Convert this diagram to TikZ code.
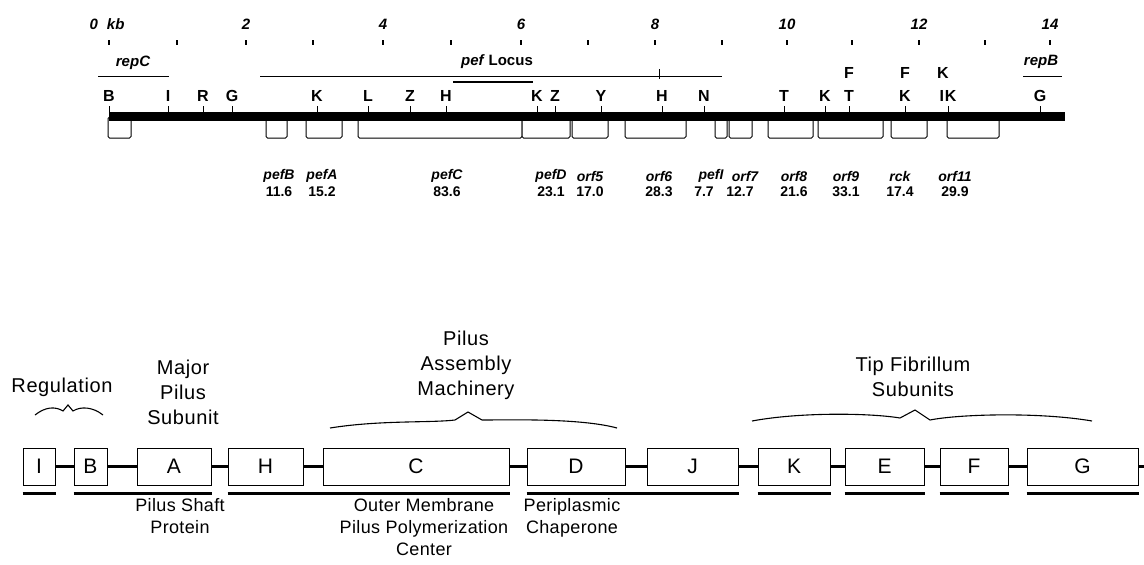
\documentclass[tikz,border=0pt]{standalone}
\usepackage{fontspec}
\setmainfont{Liberation Sans}
\usetikzlibrary{positioning}

\begin{document}
\begin{tikzpicture}[
  x=1pt,y=-1pt,
  scalelab/.style={font=\fontsize{15}{15}\selectfont\bfseries\itshape,inner sep=0pt},
  site/.style={font=\fontsize{16}{16}\selectfont\bfseries,inner sep=0pt},
  genename/.style={font=\fontsize{14}{14}\selectfont\bfseries\itshape,inner sep=0pt},
  genesize/.style={font=\fontsize{14}{14}\selectfont\bfseries,inner sep=0pt},
  orf/.style={draw,fill=white,rounded corners=1.5pt,line width=1pt},
  gene/.style={draw,line width=1pt,fill=white,minimum height=37pt,inner sep=0pt,font=\fontsize{21}{21}\selectfont},
  link/.style={line width=3pt},
  span/.style={line width=2.2pt},
  role/.style={align=center,font=\fontsize{20}{25}\selectfont\addfontfeatures{LetterSpace=3},inner sep=0pt},
  function/.style={align=center,font=\fontsize{18}{22}\selectfont\addfontfeatures{LetterSpace=2},inner sep=0pt,anchor=north},
  brace/.style={line width=1.1pt}
]
\useasboundingbox (0,0) rectangle (1144,565);

\node[scalelab] (k0) at (107,24) {0\hspace{9pt}kb};
\foreach \x/\k in {246/2,383/4,521/6,655/8,787/10,919/12,1050/14}
  \node[scalelab] (k\k) at (\x,24) {\k};
\foreach \x in {109,177,246,313,383,451,521,588,655,722,787,852,919,985,1050}
  \draw[line width=1.4pt] (\x,40) -- (\x,45);

\node[scalelab] (repC) at (133,63) {repC};
\draw[thick] (98,76) -- (169,76);
\node[scalelab] (locus) at (497,62) {pef\hspace{5pt}\upshape Locus};
\draw[thick] (260,76) -- (722,76);
\draw[line width=1.8pt] (453,82) -- (533,82);
\draw[thick] (659,69) -- (659,79);
\node[scalelab] (repB) at (1041,62) {repB};
\draw[thick] (1023,76) -- (1062,76);

\foreach \x/\s [count=\i] in {109/B,168/I,203/R,232/G,317/K,368/L,410/Z,446/H,537/K,555/Z,601/Y,662/H,704/N,784/T,825/K,849/T,905/K,948/I\kern1ptK,1040/G}{
  \node[site] (s\i) at (\x,96) {\s};
  \draw (\x,106) -- (\x,113);
}
\foreach \x/\s [count=\i] in {849/F,905/F,943/K}
  \node[site] (u\i) at (\x,73) {\s};

\foreach \a/\b in {108/131,266/287,306/342,358/522,522/570,572/608,625/686,715/727,729/752,768/813,818/883,891/927,947/999}
  \draw[orf] (\a,117) rectangle (\b,138);
\fill (109,112) rectangle (1065,121);

\foreach \x/\n/\v [count=\i] in {279/pefB/11.6,322/pefA/15.2,447/pefC/83.6,551/pefD/23.1,590/orf5/17.0,659/orf6/28.3,794/orf8/21.6,846/orf9/33.1,900/rck/17.4,955/orf11/29.9}{
  \node[genename] (g\i) at (\x,176) {\n};
  \node[genesize] (v\i) at (\x,192) {\v};
}
\node[genename] (pefI) at (711,176) {pefI};
\node[genename] (orf7) at (745,176) {orf7};
\node[genesize] (vI) at (704,192) {7.7};
\node[genesize] (v7) at (740,192) {12.7};

\node[gene,minimum width=32pt] (I) at (39,466.5) {I};
\node[gene,minimum width=33pt] (B) at (90.5,466.5) {B};
\node[gene,minimum width=74pt] (A) at (174,466.5) {A};
\node[gene,minimum width=75pt] (H) at (265.5,466.5) {H};
\node[gene,minimum width=186pt] (C) at (416,466.5) {C};
\node[gene,minimum width=98pt] (D) at (576,466.5) {D};
\node[gene,minimum width=91pt] (J) at (692.5,466.5) {J};
\node[gene,minimum width=72pt] (K) at (794,466.5) {K};
\node[gene,minimum width=79pt] (E) at (884.5,466.5) {E};
\node[gene,minimum width=68pt] (F) at (974,466.5) {F};
\node[gene,minimum width=111pt] (G) at (1082.5,466.5) {G};
\coordinate (Gend) at (1144,466.5);
\draw[link] (I) -- (B);
\draw[link] (B) -- (A);
\draw[link] (A) -- (H);
\draw[link] (H) -- (C);
\draw[link] (C) -- (D);
\draw[link] (D) -- (J);
\draw[link] (J) -- (K);
\draw[link] (K) -- (E);
\draw[link] (E) -- (F);
\draw[link] (F) -- (G);
\draw[link] (G) -- (Gend);

\draw[span] ([yshift=-8pt]I.south west) -- ([yshift=-8pt]I.south east);
\draw[span] ([yshift=-8pt]B.south west) -- ([yshift=-8pt]A.south east);
\draw[span] ([yshift=-8pt]H.south west) -- ([yshift=-8pt]C.south east);
\draw[span] ([yshift=-8pt]D.south west) -- ([yshift=-8pt]J.south east);
\draw[span] ([yshift=-8pt]K.south west) -- ([yshift=-8pt]K.south east);
\draw[span] ([yshift=-8pt]E.south west) -- ([yshift=-8pt]E.south east);
\draw[span] ([yshift=-8pt]F.south west) -- ([yshift=-8pt]F.south east);
\draw[span] ([yshift=-8pt]G.south west) -- ([yshift=-8pt]G.south east);

\node[role,anchor=south] (reg) at (62,397) {Regulation};
\node[role,anchor=south] (major) at (183,425) {Major\\Pilus\\Subunit};
\node[role,anchor=south] (asm) at (466,400) {Pilus\\Assembly\\Machinery};
\node[role,anchor=south] (tip) at (913,397) {Tip Fibrillum\\Subunits};
\node[function] (shaft) at (180,498) {Pilus Shaft\\Protein};
\node[function] (omp) at (424,498) {Outer Membrane\\Pilus Polymerization\\Center};
\node[function] (peri) at (572,498) {Periplasmic\\Chaperone};

\draw[brace] (35,415) .. controls (45,407) and (55,406) .. (63,411) -- (68,405) -- (73,411) .. controls (81,406) and (93,407) .. (103,415);
\draw[brace] (330,428) .. controls (380,420) and (430,423) .. (455,420) -- (468,412) -- (482,420) .. controls (510,420) and (580,418) .. (617,428);
\draw[brace] (752,421) .. controls (800,412) and (870,413) .. (900,418) -- (915,410) -- (930,420) .. controls (960,414) and (1040,412) .. (1092,421);
\end{tikzpicture}
\end{document}
